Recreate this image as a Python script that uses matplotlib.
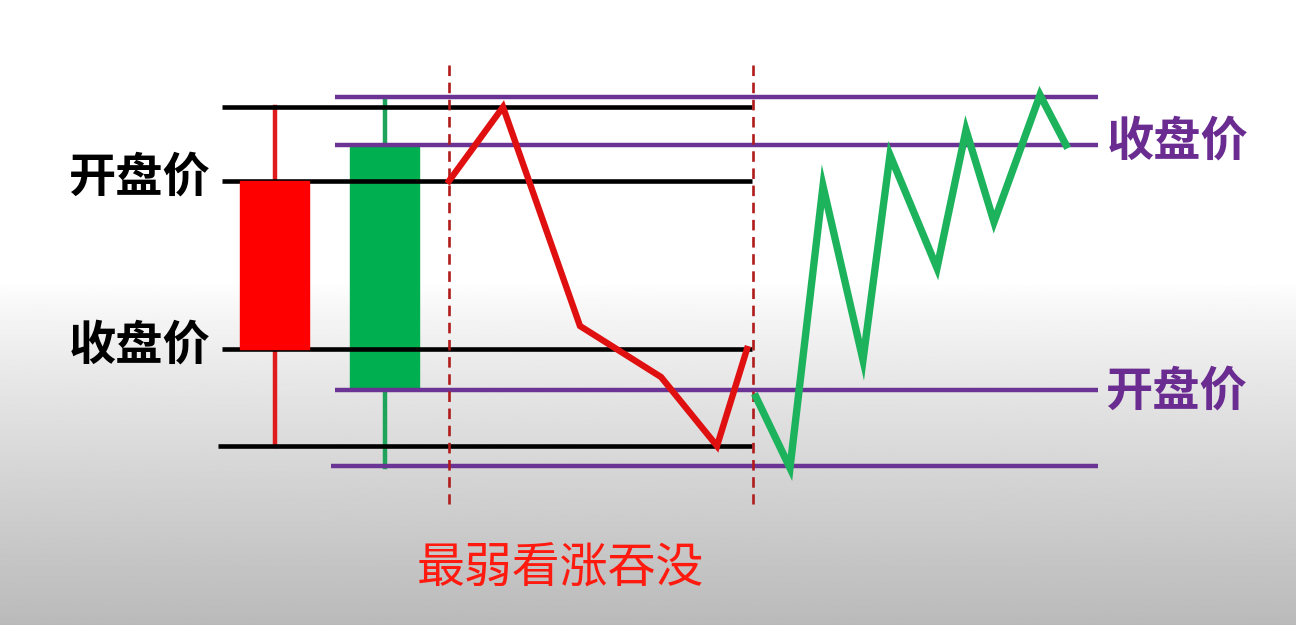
import numpy as np
import matplotlib.pyplot as plt

plt.rcParams['font.family'] = ['Noto Sans CJK SC', 'DejaVu Sans']

W, H = 1296, 625

# price levels (picture rows) for the two candles
red_high, red_open, red_close, red_low = 107, 181, 349, 446
green_high, green_close, green_open, green_low = 97, 147, 388, 467
purple_levels = [97, 145, 390, 466]
black_levels = [red_high, red_open, red_close, red_low]

# candle columns
red_left, red_right, red_mid = 240, 309, 275
green_left, green_right, green_mid = 350, 419, 385

# intraday paths
red_path_x = [449, 503, 580, 661, 717, 747]
red_path_y = [181, 107, 326, 377, 446, 349]
green_path_x = [756, 790, 823, 863, 890, 937, 966, 994, 1040, 1066]
green_path_y = [397, 468, 186, 360, 155, 268, 130, 222, 95, 145]

split_x = [449, 753]

fig = plt.figure(figsize=(W / 100, H / 100), dpi=100)
ax = fig.add_axes([0, 0, 1, 1])
ax.set_xlim(0, W)
ax.set_ylim(H, 0)
ax.axis('off')

# background: white on top, fading to grey at the bottom
rows = np.linspace(0, 1, 400)
shade = np.where(rows < 0.45, 1.0, 1.0 - 0.27 * ((rows - 0.45) / 0.55) ** 0.85)
bg = np.repeat(shade[:, None], 2, axis=1)
ax.imshow(bg, cmap='gray', vmin=0, vmax=1, extent=(0, W, H, 0), aspect='auto', zorder=0)

purple = '#6b3393'
# purple reference lines of the green candle
for lv in purple_levels:
    x0 = 331 if lv > 400 else 335
    ax.plot([x0, 1098], [lv, lv], color=purple, lw=3.2, solid_capstyle='butt', zorder=2)

# black reference lines of the red candle
for lv in black_levels:
    x0 = 218 if lv > 400 else 222
    ax.plot([x0, 752], [lv, lv], color='black', lw=3.3, solid_capstyle='butt', zorder=3)

# red candle
ax.plot([red_mid, red_mid], [red_high, red_low], color='#e01b1b', lw=3.2, zorder=2.5)
ax.add_patch(plt.Rectangle((red_left, red_open), red_right - red_left, red_close - red_open,
                           color='#ff0000', zorder=4))

# green candle
ax.plot([green_mid, green_mid], [green_high + 2, green_low], color='#1ea35a', lw=3.2, zorder=1.5)
ax.add_patch(plt.Rectangle((green_left, green_close), green_right - green_left,
                           green_open - green_close, color='#00b050', zorder=1.8))

# dashed separators
for sx in split_x:
    ax.plot([sx, sx], [65, 504], color='#b01c1c', lw=1.9, ls=(0, (4, 2.5)), zorder=5)

# price paths
ax.plot(red_path_x, red_path_y, color='#e01010', lw=4.6, solid_joinstyle='miter', zorder=6)
ax.plot(green_path_x, green_path_y, color='#1db35c', lw=5.3, solid_joinstyle='miter', zorder=6)

# labels
ax.text(139, 178, '开盘价', fontsize=34, fontweight='bold', color='black', ha='center', va='center')
ax.text(140, 346, '收盘价', fontsize=34, fontweight='bold', color='black', ha='center', va='center')
ax.text(1178, 142, '收盘价', fontsize=34, fontweight='bold', color='#6a2c91', ha='center', va='center')
ax.text(1176, 392, '开盘价', fontsize=34, fontweight='bold', color='#6a2c91', ha='center', va='center')
ax.text(560, 569, '最弱看涨吞没', fontsize=34.5, color='#ff1a10', ha='center', va='center')

fig.savefig('out.png', dpi=100)
